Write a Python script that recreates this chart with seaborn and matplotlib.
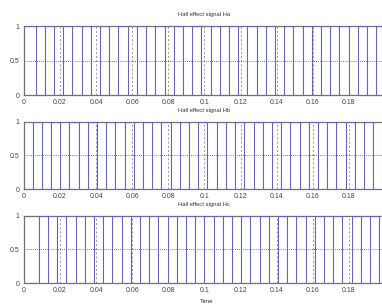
import matplotlib
matplotlib.use("Agg")
import matplotlib.pyplot as plt
import seaborn as sns
import pandas as pd

sns.set_theme(style="white")
plt.rcParams['font.family'] = ['Liberation Sans Narrow', 'Liberation Sans', 'DejaVu Sans']

ha_edges = [0.0065, 0.0116, 0.0167, 0.0218, 0.0269, 0.0320, 0.0371, 0.0422, 0.0473, 0.0524,
            0.0575, 0.0626, 0.0677, 0.0728, 0.0779, 0.0830, 0.0881, 0.0932, 0.0983, 0.1034,
            0.1085, 0.1136, 0.1187, 0.1238, 0.1289, 0.1340, 0.1391, 0.1442, 0.1493, 0.1544,
            0.1595, 0.1646, 0.1697, 0.1748, 0.1799, 0.1850, 0.1901, 0.1952]
hb_edges = [0.0048, 0.0099, 0.0150, 0.0201, 0.0252, 0.0303, 0.0354, 0.0405, 0.0456, 0.0507,
            0.0558, 0.0609, 0.0660, 0.0711, 0.0762, 0.0813, 0.0864, 0.0915, 0.0966, 0.1017,
            0.1068, 0.1119, 0.1170, 0.1221, 0.1272, 0.1323, 0.1374, 0.1425, 0.1476, 0.1527,
            0.1578, 0.1629, 0.1680, 0.1731, 0.1782, 0.1833, 0.1884, 0.1935, 0.1986]
hc_edges = [0.0082, 0.0133, 0.0184, 0.0235, 0.0286, 0.0337, 0.0388, 0.0439, 0.0490, 0.0541,
            0.0592, 0.0643, 0.0694, 0.0745, 0.0796, 0.0847, 0.0898, 0.0949, 0.1000, 0.1051,
            0.1102, 0.1153, 0.1204, 0.1255, 0.1306, 0.1357, 0.1408, 0.1459, 0.1510, 0.1561,
            0.1612, 0.1663, 0.1714, 0.1765, 0.1816, 0.1867, 0.1918, 0.1969]
start_levels = [1, 0, 0]
titles = ['Hall effect signal Ha', 'Hall effect signal Hb', 'Hall effect signal Hc']
t_end = 0.2

xticks = [0, 0.02, 0.04, 0.06, 0.08, 0.1, 0.12, 0.14, 0.16, 0.18]
xtick_labels = ['0', '0.02', '0.04', '0.06', '0.08', '0.1', '0.12', '0.14', '0.16', '0.18']
yticks = [0, 0.5, 1]
ytick_labels = ['0', '0.5', '1']


def square_wave(edges, level):
    t, v = [0.0], [level]
    for e in edges:
        level = 1 - level
        t.append(e)
        v.append(level)
    t.append(t_end)
    v.append(level)
    return pd.DataFrame({'t': t, 'v': v})


fig = plt.figure(figsize=(3.82, 3.05), dpi=100)
fig.patch.set_facecolor('white')

# axes boxes (left, bottom, width, height) in figure fractions
boxes = [(0.0626, 0.6885, 0.945, 0.226),
         (0.0626, 0.380, 0.945, 0.2207),
         (0.0626, 0.0721, 0.945, 0.2207)]

for box, edges, lvl, title in zip(boxes, [ha_edges, hb_edges, hc_edges], start_levels, titles):
    ax = fig.add_axes(box)
    df = square_wave(edges, lvl)
    sns.lineplot(data=df, x='t', y='v', ax=ax, estimator=None, drawstyle='steps-post',
                 color='#5a5aff', lw=0.75, zorder=3)
    ax.set_xlim(0, t_end)
    ax.set_ylim(0, 1)
    ax.set_xticks(xticks)
    ax.set_xticklabels(xtick_labels)
    ax.set_yticks(yticks)
    ax.set_yticklabels(ytick_labels)
    ax.tick_params(labelsize=5, direction='in', length=2, width=0.5, pad=3, colors='#444444')
    ax.grid(True, axis='x', ls=(0, (2.5, 2.5)), color='0.55', lw=0.6)
    ax.grid(True, axis='y', ls=(0, (1, 1.5)), color='0.3', lw=0.6)
    for s in ax.spines.values():
        s.set_color('#707070')
        s.set_linewidth(0.9)
    ax.set_xlabel('')
    ax.set_ylabel('')
    ax.set_title(title, fontsize=4.2, pad=7, color='#333333')

fig.text(0.54, 0.002, 'Time', fontsize=4.5, ha='center', va='bottom', color='#333333')

fig.savefig('out.png', dpi=100, facecolor='white')
